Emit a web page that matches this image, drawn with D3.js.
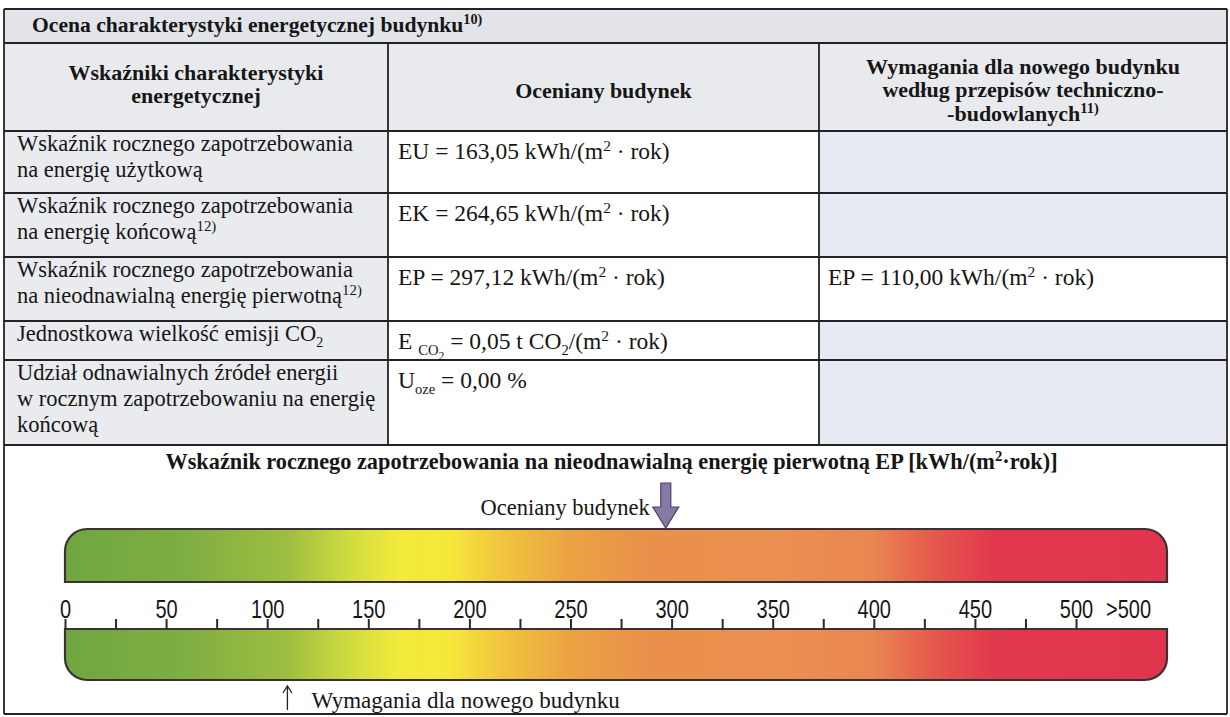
<!DOCTYPE html>
<html>
<head>
<meta charset="utf-8">
<script src="https://cdn.jsdelivr.net/npm/d3@7"></script>
<style>
  body { margin: 0; background: #fff; }
  svg { display: block; }
  text { fill: #161616; white-space: pre; }
</style>
</head>
<body>
<script>
var headerTitle = "Ocena charakterystyki energetycznej budynku^{10)}";
var columnHeads = [
    ["Wskaźniki charakterystyki", "energetycznej"],
    ["Oceniany budynek"],
    ["Wymagania dla nowego budynku", "według przepisów techniczno-", "-budowlanych^{11)}"]
];
var indicatorLabels = [
    ["Wskaźnik rocznego zapotrzebowania", "na energię użytkową"],
    ["Wskaźnik rocznego zapotrzebowania", "na energię końcową^{12)}"],
    ["Wskaźnik rocznego zapotrzebowania", "na nieodnawialną energię pierwotną^{12)}"],
    ["Jednostkowa wielkość emisji CO_{2}"],
    ["Udział odnawialnych źródeł energii", "w rocznym zapotrzebowaniu na energię", "końcową"]
];
var valueSymbols = ["EU", "EK", "EP", "E _{CO}__{2}", "U_{oze}"];
var valueUnits = ["kWh/(m^{2} · rok)", "kWh/(m^{2} · rok)", "kWh/(m^{2} · rok)", "t CO_{2}/(m^{2} · rok)", "%"];
var assessedValues = [163.05, 264.65, 297.12, 0.05, 0.00];
var requiredValues = [null, null, 110.00, null, null];

var scaleTitle = "Wskaźnik rocznego zapotrzebowania na nieodnawialną energię pierwotną EP [kWh/(m^{2}·rok)]";
var tickValues = d3.range(0, 501, 25);       // minor every 25, labelled every 50
var overflowLabel = ">500";
var overflowValue = 526;
var barMax = 545;                            // colour bar runs a bit past 500
var assessedEP = 297.12;
var requiredEP = 110.00;
var assessedLabel = "Oceniany budynek";
var requiredLabel = "Wymagania dla nowego budynku";

// gradient of the colour bars (EP value -> colour)
var gradStops = [
    [0, "#6fa640"], [60, "#7fae42"], [110, "#9ebe40"], [140, "#cedb40"],
    [165, "#f2ea3c"], [190, "#f6e83a"], [215, "#f1c63e"], [250, "#eca244"],
    [290, "#e9904a"], [350, "#ec9050"], [400, "#e98652"], [430, "#e4584c"],
    [460, "#e2384c"], [545, "#e1344e"]
];

// layout
var W = 1230, H = 717;
var L = 4, R = 1227, C1 = 388, C2 = 819;
var rowEdges = [9, 43, 131, 193, 257, 321, 360, 445, 714];
var ink = "#232323";
var serif = "'Liberation Serif', 'Times New Roman', serif";
var narrow = "'Liberation Sans Narrow', 'Liberation Sans', Arial, sans-serif";

var svg = d3.select("body").append("svg").attr("width", W).attr("height", H);

// writes text with ^{sup}, _{sub} and __{subsub} pieces into a <text>
function rich(textSel, str, size) {
    textSel.attr("font-family", serif);
    var tokens = str.match(/\^\{[^}]*\}|__\{[^}]*\}|_\{[^}]*\}|[^^_]+/g);
    var shift = 0;
    tokens.forEach(function (tok) {
        var kind = "n", txt = tok;
        if (tok.indexOf("^{") === 0) { kind = "sup"; txt = tok.slice(2, -1); }
        else if (tok.indexOf("__{") === 0) { kind = "subsub"; txt = tok.slice(3, -1); }
        else if (tok.indexOf("_{") === 0) { kind = "sub"; txt = tok.slice(2, -1); }
        var target = { n: 0, sup: -0.36 * size, sub: 0.26 * size, subsub: 0.45 * size }[kind];
        var fs = { n: size, sup: size * 0.66, sub: size * 0.62, subsub: size * 0.5 }[kind];
        textSel.append("tspan").attr("dy", target - shift).attr("font-size", fs).text(txt);
        shift = target;
    });
    return textSel;
}

function fmt(v) {
    return d3.format(".2f")(v).replace(".", ",");
}

// ---------- table backgrounds ----------
var bg = svg.append("g");
bg.append("rect").attr("x", L).attr("y", rowEdges[0]).attr("width", R - L)
    .attr("height", rowEdges[1] - rowEdges[0]).attr("fill", "#e2e4e9");
bg.append("rect").attr("x", L).attr("y", rowEdges[1]).attr("width", R - L)
    .attr("height", rowEdges[2] - rowEdges[1]).attr("fill", "#e9eaee");

indicatorLabels.forEach(function (d, i) {
    var y0 = rowEdges[i + 2], y1 = rowEdges[i + 3];
    bg.append("rect").attr("x", L).attr("y", y0).attr("width", C1 - L).attr("height", y1 - y0).attr("fill", "#eaebef");
    bg.append("rect").attr("x", C1).attr("y", y0).attr("width", C2 - C1).attr("height", y1 - y0).attr("fill", "#ffffff");
    bg.append("rect").attr("x", C2).attr("y", y0).attr("width", R - C2).attr("height", y1 - y0)
        .attr("fill", requiredValues[i] == null ? "#e7eaf2" : "#ffffff");
});

// ---------- grid lines ----------
var grid = svg.append("g").attr("stroke", ink).attr("stroke-width", 1.8);
rowEdges.forEach(function (y) {
    grid.append("line").attr("x1", L).attr("x2", R).attr("y1", y).attr("y2", y);
});
grid.append("line").attr("x1", L).attr("x2", L).attr("y1", rowEdges[0]).attr("y2", rowEdges[8]);
grid.append("line").attr("x1", R).attr("x2", R).attr("y1", rowEdges[0]).attr("y2", rowEdges[8]);
[C1, C2].forEach(function (x) {
    grid.append("line").attr("x1", x).attr("x2", x).attr("y1", rowEdges[1]).attr("y2", rowEdges[7]);
});

// ---------- header texts ----------
rich(svg.append("text").attr("x", 32).attr("y", 32).attr("font-weight", "bold"), headerTitle, 21.6);

var headCx = [(L + C1) / 2, (C1 + C2) / 2, (C2 + R) / 2];
var headBase = [[80, 103], [98], [74, 97, 121]];
columnHeads.forEach(function (lines, c) {
    lines.forEach(function (line, j) {
        rich(svg.append("text").attr("x", headCx[c]).attr("y", headBase[c][j])
            .attr("text-anchor", "middle").attr("font-weight", "bold"), line, 22);
    });
});

// ---------- body rows ----------
indicatorLabels.forEach(function (lines, i) {
    var top = rowEdges[i + 2];
    lines.forEach(function (line, j) {
        rich(svg.append("text").attr("x", 17).attr("y", top + 20 + j * 26), line, 22.5);
    });
    rich(svg.append("text").attr("x", 398).attr("y", top + 28),
        valueSymbols[i] + " = " + fmt(assessedValues[i]) + " " + valueUnits[i], 23.5);
    if (requiredValues[i] != null) {
        rich(svg.append("text").attr("x", 828).attr("y", top + 28),
            valueSymbols[i] + " = " + fmt(requiredValues[i]) + " " + valueUnits[i], 23.5);
    }
});

// ---------- EP scale ----------
rich(svg.append("text").attr("x", (L + R) / 2 - 4).attr("y", 469)
    .attr("text-anchor", "middle").attr("font-weight", "bold"), scaleTitle, 22.3);

var x = d3.scaleLinear().domain([0, 500]).range([65, 1076]);

var grad = svg.append("defs").append("linearGradient").attr("id", "epGrad")
    .attr("gradientUnits", "userSpaceOnUse")
    .attr("x1", x(0)).attr("x2", x(barMax)).attr("y1", 0).attr("y2", 0);
grad.selectAll("stop").data(gradStops).enter().append("stop")
    .attr("offset", function (d) { return d[0] / barMax; })
    .attr("stop-color", function (d) { return d[1]; });

var bx0 = x(0), bx1 = x(barMax), r = 22;
var topBar = { y0: 529, y1: 582 }, lowBar = { y0: 629, y1: 680 };

// upper bar: rounded on top corners
var p1 = d3.path();
p1.moveTo(bx0, topBar.y1);
p1.lineTo(bx0, topBar.y0 + r);
p1.arcTo(bx0, topBar.y0, bx0 + r, topBar.y0, r);
p1.lineTo(bx1 - r, topBar.y0);
p1.arcTo(bx1, topBar.y0, bx1, topBar.y0 + r, r);
p1.lineTo(bx1, topBar.y1);
p1.closePath();

// lower bar: rounded on bottom corners
var p2 = d3.path();
p2.moveTo(bx0, lowBar.y0);
p2.lineTo(bx1, lowBar.y0);
p2.lineTo(bx1, lowBar.y1 - r);
p2.arcTo(bx1, lowBar.y1, bx1 - r, lowBar.y1, r);
p2.lineTo(bx0 + r, lowBar.y1);
p2.arcTo(bx0, lowBar.y1, bx0, lowBar.y1 - r, r);
p2.closePath();

svg.selectAll("path.bar").data([p1, p2]).enter().append("path")
    .attr("class", "bar")
    .attr("d", function (d) { return d.toString(); })
    .attr("fill", "url(#epGrad)")
    .attr("stroke", "#3b3134").attr("stroke-width", 2.2);

// axis sits on the top edge of the lower bar
var axis = d3.axisTop(x)
    .tickValues(tickValues)
    .tickSize(10)
    .tickSizeOuter(0)
    .tickPadding(1)
    .tickFormat(function (d) { return d % 50 === 0 ? d : ""; });

var gAxis = svg.append("g").attr("transform", "translate(0," + lowBar.y0 + ")").call(axis);
gAxis.select(".domain").remove();
gAxis.selectAll(".tick line").attr("stroke", "#2a2a2a").attr("stroke-width", 2);
// the printed digits are a condensed sans: squeeze a regular one
gAxis.selectAll(".tick text")
    .attr("font-family", narrow)
    .attr("font-size", 25).attr("fill", "#1a1a1a")
    .attr("transform", "scale(0.8,1)");

svg.append("text")
    .attr("transform", "translate(" + x(overflowValue) + "," + (lowBar.y0 - 11) + ") scale(0.8,1)")
    .attr("text-anchor", "middle")
    .attr("font-family", narrow)
    .attr("font-size", 25).text(overflowLabel);

// assessed building marker
var ax = x(assessedEP);
var arrow = d3.path();
arrow.moveTo(ax - 5, 483);
arrow.lineTo(ax + 5, 483);
arrow.lineTo(ax + 5, 507);
arrow.lineTo(ax + 13, 507);
arrow.lineTo(ax, topBar.y0 - 1);
arrow.lineTo(ax - 13, 507);
arrow.lineTo(ax - 5, 507);
arrow.closePath();
svg.append("path").attr("d", arrow.toString())
    .attr("fill", "#857aa6").attr("stroke", "#4b4265").attr("stroke-width", 1.2);
svg.append("text").attr("x", ax - 16).attr("y", 515).attr("text-anchor", "end")
    .attr("font-family", serif).attr("font-size", 22.5).text(assessedLabel);

// requirement marker
var rx = x(requiredEP);
svg.append("path")
    .attr("d", "M" + rx + ",710V686M" + (rx - 4.5) + ",693L" + rx + ",686L" + (rx + 4.5) + ",693")
    .attr("fill", "none").attr("stroke", "#222").attr("stroke-width", 1.3);
svg.append("text").attr("x", rx + 24).attr("y", 708)
    .attr("font-family", serif).attr("font-size", 23).text(requiredLabel);
</script>
</body>
</html>
